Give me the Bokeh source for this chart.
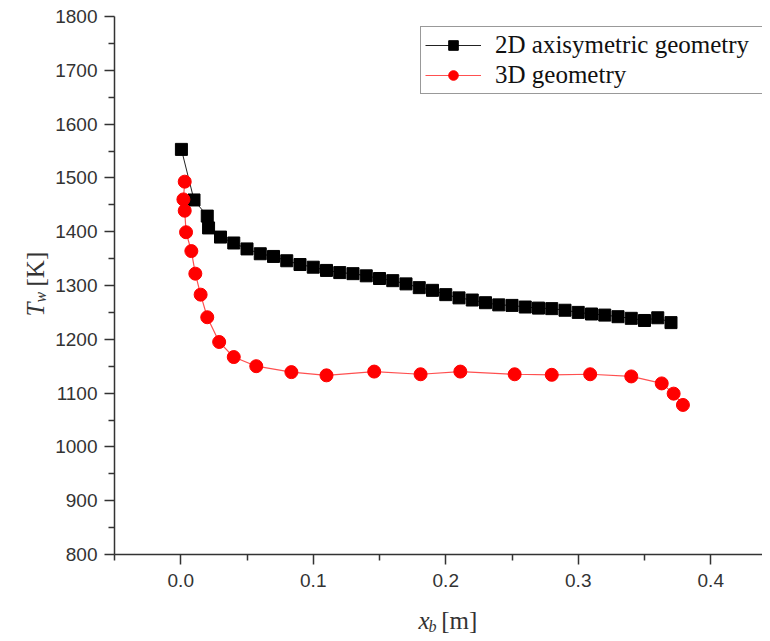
import math
from bokeh.plotting import figure
from bokeh.layouts import row, column
from bokeh.models import Range1d, Label, Legend, LegendItem, FixedTicker, PrintfTickFormatter
from bokeh.embed import file_html
from bokeh.resources import INLINE

# ---- data ----
x_2d = [0.0005, 0.01, 0.02, 0.021, 0.03, 0.04, 0.05, 0.06, 0.07, 0.08, 0.09, 0.10,
        0.11, 0.12, 0.13, 0.14, 0.15, 0.16, 0.17, 0.18, 0.19, 0.20, 0.21, 0.22,
        0.23, 0.24, 0.25, 0.26, 0.27, 0.28, 0.29, 0.30, 0.31, 0.32, 0.33, 0.34,
        0.35, 0.36, 0.37]
t_2d = [1553, 1459, 1429, 1407, 1390, 1379, 1368, 1359, 1354, 1346, 1339, 1334,
        1328, 1324, 1322, 1318, 1313, 1309, 1303, 1296, 1291, 1283, 1277, 1273,
        1268, 1264, 1263, 1260, 1258, 1257, 1254, 1250, 1247, 1245, 1242, 1239,
        1235, 1240, 1231]

x_3d = [0.003, 0.002, 0.003, 0.004, 0.008, 0.011, 0.015, 0.020, 0.029, 0.040,
        0.057, 0.0835, 0.110, 0.146, 0.181, 0.211, 0.252, 0.280, 0.309, 0.340,
        0.363, 0.372, 0.379]
t_3d = [1493, 1460, 1439, 1399, 1364, 1322, 1283, 1241, 1195, 1167,
        1150, 1139, 1133, 1140, 1135, 1140, 1135, 1134, 1135, 1131,
        1118, 1099, 1078]

x_ticks = [0.0, 0.1, 0.2, 0.3, 0.4]
x_minor = [-0.05, 0.05, 0.15, 0.25, 0.35, 0.45]
y_ticks = [800, 900, 1000, 1100, 1200, 1300, 1400, 1500, 1600, 1700, 1800]
y_minor = [850, 950, 1050, 1150, 1250, 1350, 1450, 1550, 1650, 1750]

label_2d = "2D axisymetric geometry"
label_3d = "3D geometry"

# ---- layout (page px) ----
PAGE_W, PAGE_H = 762, 641
LEFT_W = 50          # strip holding the y title
MAIN_H = 600         # main figure height; strip below holds the x title
FRAME_L, FRAME_T, FRAME_B, FRAME_R = 114, 16, 554, 762
PX_PER_X = 1325.0

x_end = -0.05 + (FRAME_R - FRAME_L) / PX_PER_X

p = figure(width=PAGE_W - LEFT_W, height=MAIN_H, output_backend="svg",
           toolbar_location=None,
           x_range=Range1d(-0.05, x_end), y_range=Range1d(800, 1800),
           min_border_left=FRAME_L - LEFT_W, min_border_right=0,
           min_border_top=FRAME_T, min_border_bottom=MAIN_H - FRAME_B)
p.outline_line_color = None
p.xgrid.visible = False
p.ygrid.visible = False
p.background_fill_color = "white"
p.border_fill_color = "white"

axis_col = "#333333"
for ax in (p.xaxis[0], p.yaxis[0]):
    ax.axis_line_color = axis_col
    ax.axis_line_width = 1.5
    ax.major_tick_line_color = axis_col
    ax.minor_tick_line_color = axis_col
    ax.major_tick_line_width = 1.5
    ax.minor_tick_line_width = 1.5
    ax.major_tick_in = 0
    ax.major_tick_out = 10
    ax.minor_tick_in = 0
    ax.minor_tick_out = 6
    ax.major_label_text_font = "Liberation Sans"
    ax.major_label_text_font_size = "19px"
    ax.major_label_text_color = "#333333"

p.xaxis.ticker = FixedTicker(ticks=x_ticks, minor_ticks=x_minor)
p.xaxis.formatter = PrintfTickFormatter(format="%.1f")
p.xaxis.major_label_standoff = 9
p.yaxis.ticker = FixedTicker(ticks=y_ticks, minor_ticks=y_minor)
p.yaxis.major_label_standoff = 7

# ---- series ----
l2 = p.line(x_2d, t_2d, line_color="#222222", line_width=1)
s2 = p.scatter(x_2d, t_2d, marker="square", size=12, fill_color="black", line_color="black")
l3 = p.line(x_3d, t_3d, line_color="#ff5050", line_width=1.2)
s3 = p.scatter(x_3d, t_3d, marker="circle", size=13, fill_color="red", line_color="red")

legend = Legend(items=[LegendItem(label=label_2d, renderers=[l2, s2]),
                       LegendItem(label=label_3d, renderers=[l3, s3])],
                location=(420 - FRAME_L, FRAME_B - 94),
                border_line_color="#333333", border_line_width=1.2,
                background_fill_color="white", background_fill_alpha=1.0,
                label_text_font="Liberation Serif", label_text_font_size="25px",
                label_text_color="#111111",
                glyph_width=56, glyph_height=24, label_height=24, label_width=275,
                spacing=2, padding=4, margin=0, label_standoff=14)
p.add_layout(legend)

# ---- title strips (plain figures whose frame fills the canvas) ----
def strip(w, h, x0, y0):
    f = figure(width=w, height=h, output_backend="svg", toolbar_location=None,
               x_range=Range1d(x0, x0 + w), y_range=Range1d(y0 + h, y0),
               x_axis_location=None, y_axis_location=None,
               min_border=0, min_border_left=0, min_border_right=0,
               min_border_top=0, min_border_bottom=0)
    f.outline_line_color = None
    f.xgrid.visible = False
    f.ygrid.visible = False
    f.background_fill_color = "white"
    f.border_fill_color = "white"
    return f

serif = "Liberation Serif"
tc = "#333333"

def add_label(f, x, y, text, size, italic=False, angle=0.0):
    f.add_layout(Label(x=x, y=y, text=text, text_font=serif,
                       text_font_style="italic" if italic else "normal",
                       text_font_size=size, text_color=tc,
                       text_baseline="alphabetic", text_align="left", angle=angle))

left = strip(LEFT_W, PAGE_H, 0, 0)
ang = math.pi / 2
add_label(left, 35, 316, "T", "25px", italic=True, angle=ang)
add_label(left, 40, 302, "w", "16px", italic=True, angle=ang)
add_label(left, 35, 286, "[K]", "25px", angle=ang)

bottom = strip(PAGE_W - LEFT_W, PAGE_H - MAIN_H, LEFT_W, MAIN_H)
add_label(bottom, 384, 620, "x", "25px", italic=True)
add_label(bottom, 395, 626, "b", "16px", italic=True)
add_label(bottom, 409, 620, "[m]", "25px")

layout = row(left, column(p, bottom, spacing=0), spacing=0)

open("out.html", "w").write(file_html(layout, INLINE))
